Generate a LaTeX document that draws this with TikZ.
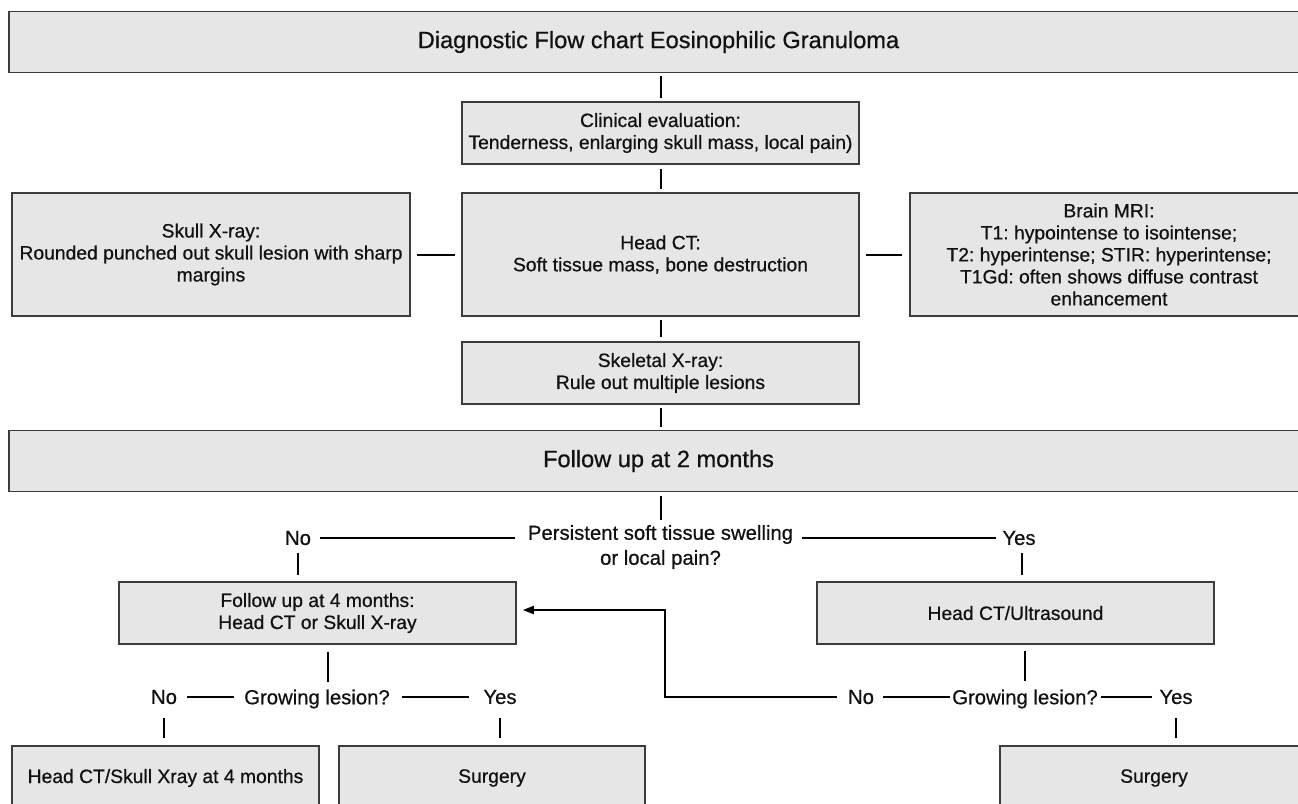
\documentclass[tikz,border=0pt]{standalone}
\usepackage{fontspec}
\setmainfont{Liberation Sans}[FakeBold=0.6]
\frenchspacing
\usetikzlibrary{arrows.meta}
\definecolor{boxfill}{HTML}{E6E6E6}
\definecolor{boxline}{HTML}{3C3C3C}
\definecolor{ink}{HTML}{111111}
\newcommand{\bodyfont}{\fontsize{19.3}{22}\selectfont}
\newcommand{\qfont}{\fontsize{20.3}{25}\selectfont}
\newcommand{\bigfont}{\fontsize{23.6}{28}\selectfont}
\begin{document}
\begin{tikzpicture}[x=1pt,y=1pt,
  box/.style={draw=boxline, fill=boxfill, line width=1.5pt, inner sep=0pt,
    align=center, text=ink, font=\bodyfont},
  bigbox/.style={box, font=\bigfont, minimum width=1299, minimum height=61},
  stdbox/.style={box, minimum width=397, minimum height=62},
  tallbox/.style={box, minimum width=398, minimum height=123},
  endbox/.style={box, minimum width=307, minimum height=64},
  lbl/.style={inner sep=0pt, text=ink, font=\qfont},
  conn/.style={draw=black, line width=2pt},
  arr/.style={conn, -{Triangle[length=11pt,width=8pt]}}
]
\useasboundingbox (0,0) rectangle (1298,-803);
\clip (0,0) rectangle (1298,-803);
\fill[white] (0,0) rectangle (1298,-803);

% boxes
\node[bigbox] (title) at (658.5,-42) {Diagnostic Flow chart Eosinophilic Granuloma};
\node[stdbox] (clin) at (660.5,-133) {Clinical evaluation:\\Tenderness, enlarging skull mass, local pain)};
\node[tallbox] (skull) at (211,-254.5) {Skull X-ray:\\Rounded punched out skull lesion with sharp\\margins};
\node[tallbox, minimum width=397] (headct) at (660.5,-254.5) {Head CT:\\Soft tissue mass, bone destruction};
\node[tallbox] (mri) at (1109,-254.5) {Brain MRI:\\T1: hypointense to isointense;\\T2: hyperintense; STIR: hyperintense;\\T1Gd: often shows diffuse contrast\\enhancement};
\node[stdbox] (skel) at (660.5,-373) {Skeletal X-ray:\\Rule out multiple lesions};
\node[bigbox] (fu2) at (658.5,-461) {Follow up at 2 months};
\node[stdbox] (fu4) at (317.5,-613) {Follow up at 4 months:\\Head CT or Skull X-ray};
\node[stdbox] (ctus) at (1015.5,-613) {Head CT/Ultrasound};
\node[endbox] (ctx4) at (165.5,-778) {Head CT/Skull Xray at 4 months};
\node[endbox, minimum width=306] (surg1) at (492,-778) {Surgery};
\node[endbox, minimum width=308] (surg2) at (1154,-778) {Surgery};

% decision labels
\node[lbl, align=center] (q1) at (660.5,-547) {Persistent soft tissue swelling\\or local pain?};
\node[lbl] (no1) at (298,-538) {No};
\node[lbl] (yes1) at (1019,-538) {Yes};
\node[lbl] (gl1) at (317,-699) {Growing lesion?};
\node[lbl] (no2) at (164,-697) {No};
\node[lbl] (yes2) at (500,-697) {Yes};
\node[lbl] (gl2) at (1025,-699) {Growing lesion?};
\node[lbl] (no3) at (861,-697) {No};
\node[lbl] (yes3) at (1176,-697) {Yes};
\coordinate (bend) at (665,-697);

% vertical spine
\draw[conn, shorten <=3, shorten >=3] (title.south -| clin.north) -- (clin.north);
\draw[conn, shorten <=4, shorten >=3] (clin.south) -- (headct.north);
\draw[conn, shorten <=3, shorten >=4] (headct.south) -- (skel.north);
\draw[conn, shorten <=3, shorten >=3] (skel.south) -- (skel.south |- fu2.north);
\draw[conn, shorten <=4, shorten >=5] (fu2.south -| q1.north) -- (q1.north);
% side boxes
\draw[conn, shorten <=6, shorten >=6] (skull.east) -- (headct.west);
\draw[conn, shorten <=6, shorten >=7] (headct.east) -- (mri.west);
% first decision
\draw[conn, shorten <=9, shorten >=13] (no1.east) -- (q1.west |- no1.east);
\draw[conn, shorten <=9, shorten >=6] (q1.east |- yes1.west) -- (yes1.west);
\draw[conn, shorten <=8, shorten >=6] (no1.south) -- (no1.south |- fu4.north);
\draw[conn, shorten <=8, shorten >=6] ([xshift=3]yes1.south) -- ([xshift=3]yes1.south |- ctus.north);
% left branch
\draw[conn, shorten <=7, shorten >=7] ([xshift=10.5]fu4.south) -- ([xshift=10.5]fu4.south |- gl1.north);
\draw[conn, shorten <=10, shorten >=10] (no2.east) -- (gl1.west |- no2.east);
\draw[conn, shorten <=12, shorten >=14] (gl1.east |- yes2.west) -- (yes2.west);
\draw[conn, shorten <=14, shorten >=7] (no2.south) -- (no2.south |- ctx4.north);
\draw[conn, shorten <=14, shorten >=7] (yes2.south) -- (yes2.south |- surg1.north);
% right branch
\draw[conn, shorten <=6, shorten >=8] ([xshift=9.5]ctus.south) -- ([xshift=9.5]ctus.south |- gl2.north);
\draw[conn, shorten <=9, shorten >=2] (no3.east) -- (gl2.west |- no3.east);
\draw[conn, shorten <=3, shorten >=7] (gl2.east |- yes3.west) -- (yes3.west);
\draw[conn, shorten <=14, shorten >=7] (yes3.south) -- (yes3.south |- surg2.north);
\draw[arr, shorten <=11, shorten >=6] (no3.west) -- (bend) |- ([yshift=3]fu4.east);
\end{tikzpicture}
\end{document}
